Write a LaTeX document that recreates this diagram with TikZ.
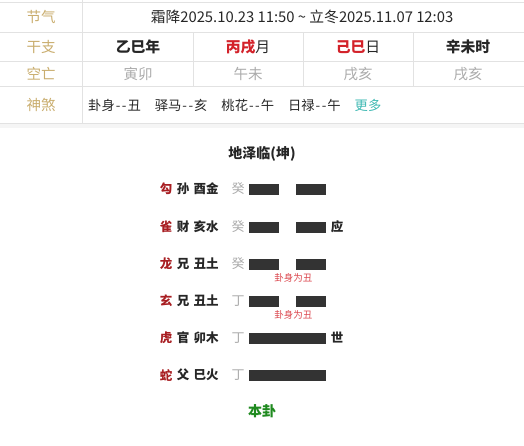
\documentclass[tikz,border=0pt]{standalone}
\usepackage{fontspec}
\setmainfont{Noto Sans CJK SC}
\usetikzlibrary{positioning}
\definecolor{gold}{HTML}{C9AD6E}
\definecolor{gridline}{HTML}{E2E2E2}
\definecolor{palegray}{HTML}{ABABAB}
\definecolor{ganred}{HTML}{D3222A}
\definecolor{animalred}{HTML}{A81E22}
\definecolor{barblack}{HTML}{333333}
\definecolor{moreteal}{HTML}{3DB8B2}
\definecolor{bengreen}{HTML}{1F8A1F}
\newcommand\dd{\kern1pt-\kern1.5pt-\kern1pt}
\tikzset{
	rowhead/.style={text=gold,font=\fontsize{14.5}{14.5}\selectfont,inner sep=0},
	cell/.style={text=black!85,font=\fontsize{14.8}{14.8}\selectfont,inner sep=0},
	kong/.style={text=palegray,font=\fontsize{14.5}{14.5}\selectfont,inner sep=0},
	hexchar/.style={font=\fontsize{12.5}{12.5}\selectfont\bfseries,inner sep=0},
	bar/.style={fill=barblack,minimum height=11pt,inner sep=0,anchor=west}
}

\begin{document}
\begin{tikzpicture}[x=1pt,y=-1pt]
	\useasboundingbox (0,0) rectangle (524,445);
	
	% table
	\fill[gray!8] (0,123) rectangle (524,128);
	\draw[gridline,line width=0.8pt] (0,2) -- (524,2) (0,32) -- (524,32)
		(0,61) -- (524,61) (0,86) -- (524,86) (0,123) -- (524,123);
	\draw[gridline,line width=0.8pt] (82,0) -- (82,123);
	\foreach \x in {193,303,413}
		\draw[gridline,line width=0.8pt] (\x,32) -- (\x,86);
	
	\node[rowhead] (jieqi) at (41,17) {节气};
	\node[rowhead] (ganzhi) at (41,47) {干支};
	\node[rowhead] (kongwang) at (41,74) {空亡};
	\node[rowhead] (shensha) at (41,105) {神煞};
	
	\node[cell] (term) at (302,17) {霜降2025.10.23 11:50 \char"007E\ 立冬2025.11.07 12:03};
	\node[cell] (year) at (138,47) {\textbf{乙巳年}};
	\node[cell] (month) at (248,47) {\textcolor{ganred}{\textbf{丙戌}}月};
	\node[cell] (day) at (358,47) {\textcolor{ganred}{\textbf{己巳}}日};
	\node[cell] (hour) at (468,47) {\textbf{辛未时}};
	\node[kong] (kyear) at (138,74) {寅卯};
	\node[kong] (kmonth) at (248,74) {午未};
	\node[kong] (kday) at (358,74) {戌亥};
	\node[kong] (khour) at (468,74) {戌亥};
	\node[cell,anchor=west,font=\fontsize{13.3}{13.3}\selectfont] (stars) at (88,105)
		{卦身\dd 丑\hspace{14pt}驿马\dd 亥\hspace{14pt}桃花\dd 午\hspace{14pt}日禄\dd 午\hspace{14pt}\textcolor{moreteal}{更多}};
	
	% hexagram
	\node[hexchar,font=\fontsize{14}{14}\selectfont\bfseries,text=black!85] (title) at (262,154) {地泽临(坤)};
	\foreach \i/\y/\ani/\rel/\br/\st/\yang in {1/189/勾/孙/酉金/癸/0,2/227/雀/财/亥水/癸/0,
		3/264/龙/兄/丑土/癸/0,4/301/玄/兄/丑土/丁/0,5/338/虎/官/卯木/丁/1,6/375/蛇/父/巳火/丁/1}{
		\node[hexchar,text=animalred] (ani\i) at (166,\y) {\ani};
		\node[hexchar,text=black!85] (rel\i) at (183,\y) {\rel};
		\node[hexchar,text=black!85] (br\i) at (206,\y) {\br};
		\node[hexchar,font=\fontsize{13}{13}\selectfont,text=palegray] (st\i) at (238,\y) {\st};
		\ifnum\yang=1
			\node[bar,minimum width=77pt] (line\i) at (249,\y) {};
		\else
			\node[bar,minimum width=30pt] (line\i) at (249,\y) {};
			\node[bar,minimum width=30pt] (lineb\i) at (296,\y) {};
		\fi
	}
	\node[hexchar,text=black!85] (ying) at (337,227) {应};
	\node[hexchar,text=black!85] (shi) at (337,338) {世};
	\node[text=ganred!85,font=\fontsize{9.5}{9.5}\selectfont,inner sep=0,below=4pt of line3.south east,xshift=14pt] (gs3) {卦身为丑};
	\node[text=ganred!85,font=\fontsize{9.5}{9.5}\selectfont,inner sep=0,below=4pt of line4.south east,xshift=14pt] (gs4) {卦身为丑};
	\node[hexchar,font=\fontsize{14}{14}\selectfont\bfseries,text=bengreen] (bengua) at (262,411) {本卦};
\end{tikzpicture}
\end{document}
